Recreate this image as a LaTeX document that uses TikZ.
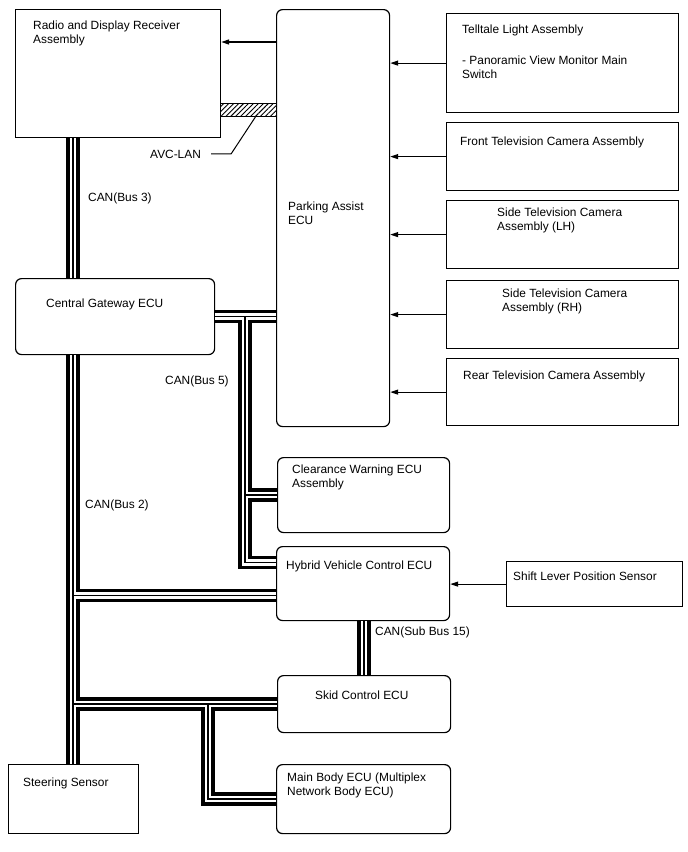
\documentclass[tikz,border=0pt]{standalone}
\usepackage{fontspec}
\setmainfont{Liberation Sans}
\usetikzlibrary{arrows.meta,patterns.meta}

\begin{document}
\begin{tikzpicture}[x=1pt, y=-1pt,
  every node/.style={font=\fontsize{11.9}{14}\selectfont},
  sqbox/.style={draw, line width=1.2pt, inner sep=0pt, anchor=north west},
  rbox/.style={sqbox, rounded corners=6pt},
  txt/.style={anchor=base west, inner sep=0pt, align=left},
  sig/.style={line width=1.2pt, -{Triangle[length=8pt,width=5pt]}},
  busout/.style={line width=13.5pt},
  busmid/.style={line width=6.5pt, white},
  buscore/.style={line width=1.4pt}]
  \useasboundingbox (0,0) rectangle (688,852);
  % Radio and display
  \node[sqbox, minimum width=205pt, minimum height=128pt] (radio) at (15,9) {};
  \node[txt] at (33,43) {Radio and Display Receiver\\Assembly};
  % Parking assist ECU
  \node[rbox, minimum width=113pt, minimum height=417pt] (park) at (276,9) {};
  \node[txt] at (288,224) {Parking Assist\\ECU};
  % Camera and switch inputs
  \node[sqbox, minimum width=232pt, minimum height=99pt] (tell) at (446,13) {};
  \node[txt] at (462,78) {Telltale Light Assembly\\[17pt]- Panoramic View Monitor Main\\Switch};
  \node[sqbox, minimum width=232pt, minimum height=68pt] (front) at (446,122) {};
  \node[txt] at (460,145) {Front Television Camera Assembly};
  \node[sqbox, minimum width=232pt, minimum height=68pt] (sidel) at (446,200) {};
  \node[txt] at (497,230) {Side Television Camera\\Assembly (LH)};
  \node[sqbox, minimum width=232pt, minimum height=68pt] (sider) at (446,280) {};
  \node[txt] at (502,311) {Side Television Camera\\Assembly (RH)};
  \node[sqbox, minimum width=232pt, minimum height=67pt] (rear) at (446,358) {};
  \node[txt] at (463,379) {Rear Television Camera Assembly};
  % CAN ECUs
  \node[rbox, minimum width=199pt, minimum height=76pt] (cgw) at (15,278) {};
  \node[txt] at (46,307) {Central Gateway ECU};
  \node[rbox, minimum width=172pt, minimum height=75pt] (clear) at (277,457) {};
  \node[txt] at (292,487) {Clearance Warning ECU\\Assembly};
  \node[rbox, minimum width=173pt, minimum height=74pt] (hv) at (276,546) {};
  \node[txt] at (286,569) {Hybrid Vehicle Control ECU};
  \node[sqbox, minimum width=176pt, minimum height=45pt] (shift) at (506,561) {};
  \node[txt] at (513,580) {Shift Lever Position Sensor};
  \node[rbox, minimum width=173pt, minimum height=57pt] (skid) at (277,675) {};
  \node[txt] at (315,699) {Skid Control ECU};
  \node[rbox, minimum width=174pt, minimum height=69pt] (body) at (276,764) {};
  \node[txt] at (287,795) {Main Body ECU (Multiplex\\Network Body ECU)};
  \node[sqbox, minimum width=130pt, minimum height=69pt] (steer) at (8,764) {};
  \node[txt] at (23,786) {Steering Sensor};
  % AVC-LAN
  \node[sqbox, line width=1pt, minimum width=56pt, minimum height=13pt,
    pattern={Lines[angle=45,distance=3.5pt,line width=0.9pt]}] (avc) at (220,103) {};
  \node[txt] (avclbl) at (150,158) {AVC-LAN};
  \draw[line width=1pt] ([xshift=10pt]avclbl.east) -- ++(20,0) -- ([xshift=7pt]avc.south);
  % Signal lines
  \draw[sig] ([yshift=-33pt]park.north west) -- ([yshift=-33pt]park.north west -| radio.east);
  \draw[sig] (tell.west) -- (tell.west -| park.east);
  \draw[sig] (front.west) -- (front.west -| park.east);
  \draw[sig] (sidel.west) -- (sidel.west -| park.east);
  \draw[sig] (sider.west) -- (sider.west -| park.east);
  \draw[sig] (rear.west) -- (rear.west -| park.east);
  \draw[sig] (shift.west) -- (shift.west -| hv.east);
  % CAN buses
  \coordinate (trunk) at (73,0);
  \coordinate (b5) at (245,0);
  \coordinate (mbx) at (208,0);
  \coordinate (sub) at (364,0);
  \coordinate (hvin) at ([yshift=-12pt]hv.west);
  \coordinate (hvtop) at ([yshift=21pt]hv.west);
  \foreach \layer in {busout,busmid,buscore}{
    \draw[\layer] (radio.south -| trunk) -- (cgw.north -| trunk);
    \draw[\layer] (cgw.south -| trunk) -- (steer.north -| trunk);
    \draw[\layer] (hvin -| trunk) -- (hvin);
    \draw[\layer] (skid.west -| trunk) -- (skid.west);
    \draw[\layer] (skid.west -| mbx) -- (body.west -| mbx) -- (body.west);
    \draw[\layer] (cgw.east) -- (cgw.east -| park.west);
    \draw[\layer] (cgw.east -| b5) -- (hvtop -| b5) -- (hvtop);
    \draw[\layer] (clear.west -| b5) -- (clear.west);
    \draw[\layer] (hv.south -| sub) -- (skid.north -| sub);
  }
  \node[txt] at (88,201) {CAN(Bus 3)};
  \node[txt] at (165,384) {CAN(Bus 5)};
  \node[txt] at (85,508) {CAN(Bus 2)};
  \node[txt] at (375,635) {CAN(Sub Bus 15)};
\end{tikzpicture}
\end{document}
